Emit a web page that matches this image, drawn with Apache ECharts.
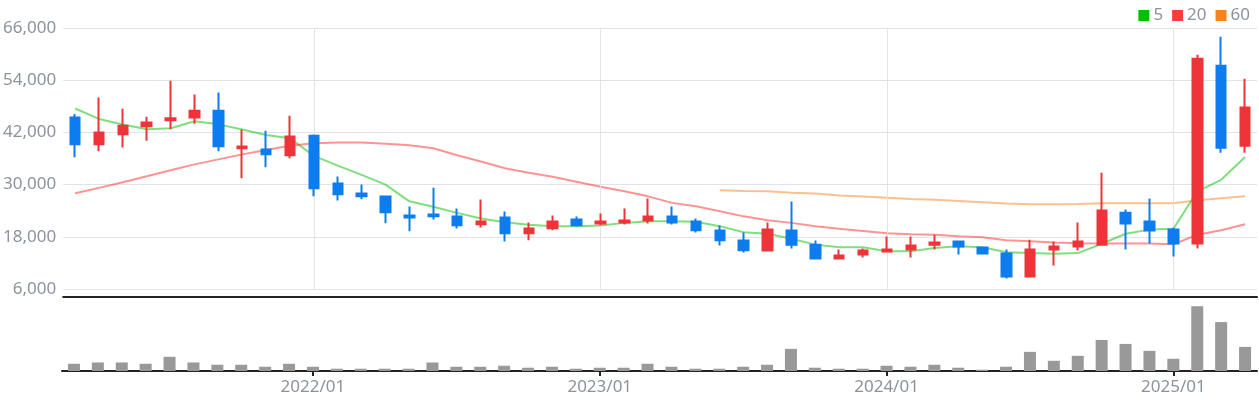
<!DOCTYPE html>
<html>
<head>
<meta charset="utf-8">
<script src="https://cdn.jsdelivr.net/npm/echarts@6/dist/echarts.min.js"></script>
<style>html,body{margin:0;padding:0;background:#fff}#c{width:1259px;height:400px}</style>
</head>
<body>
<div id="c"></div>
<script>
const categories = [
 '2021/03','2021/04','2021/05','2021/06','2021/07','2021/08','2021/09','2021/10','2021/11','2021/12',
 '2022/01','2022/02','2022/03','2022/04','2022/05','2022/06','2022/07','2022/08','2022/09','2022/10','2022/11','2022/12',
 '2023/01','2023/02','2023/03','2023/04','2023/05','2023/06','2023/07','2023/08','2023/09','2023/10','2023/11','2023/12',
 '2024/01','2024/02','2024/03','2024/04','2024/05','2024/06','2024/07','2024/08','2024/09','2024/10','2024/11','2024/12',
 '2025/01','2025/02','2025/03','2025/04'
];
const opens  = [45400,39250,41550,43400,44800,45450,47000,38350,38050,36750,41250,30250,27950,27250,22900,23100,22650,20900,22450,18800,19950,21950,21050,21300,21750,22650,21500,19450,17150,14850,19450,16200,13000,13950,14600,15100,16200,16900,15550,14150,8850,15100,15750,16200,23550,21500,19650,16450,57350,38950];
const closes = [39250,41950,43550,44250,45250,47000,38800,38750,36950,41050,29150,27800,27300,23650,22450,22700,20650,21500,18800,19900,21500,20650,21500,21750,22650,21300,19500,17200,14900,19650,16200,13000,13700,14850,15100,16000,16700,15750,14150,8850,15100,15750,16900,24050,21050,19450,16450,58950,38500,47700];
const lows   = [36300,37650,38550,40100,42700,44000,37650,31450,34000,36050,27300,26350,26650,21100,19300,21950,19900,20150,16900,17200,19500,20350,20600,20800,21050,20800,19000,16000,14400,14600,15300,13000,13000,13250,14400,13250,15100,13950,13950,8400,8850,11400,14850,16200,15100,16450,13450,15300,37350,37350];
const highs  = [46250,50000,47450,45600,53900,50700,51150,42650,42400,45850,41500,31850,30000,27500,24950,29300,24500,26550,23800,21300,22900,22650,23350,24500,26800,24950,22200,20600,19000,21300,26100,17150,15100,15300,18050,18050,18500,16950,15750,15100,17350,16900,21300,32750,24250,26800,20150,59850,64000,54350];
const ma5  = [47500,45100,43800,42700,42950,44550,43850,42650,41400,40650,36600,34350,32250,30000,26150,24900,23500,22200,21350,20750,20450,20450,20600,21200,21600,21600,21450,20450,19050,18700,17550,16200,15600,15600,14700,14700,15450,15850,15600,14450,14300,14100,14250,16400,18700,19650,19850,28450,31100,36350];
const ma20 = [28000,29250,30550,31900,33300,34650,35800,36950,37950,38950,39500,39650,39650,39400,39050,38350,36750,35300,33750,32700,31800,30650,29500,28450,27300,25800,25000,23850,22700,21800,21200,20450,19850,19350,18800,18600,18450,18150,17900,17200,17000,16700,16500,16450,16450,16450,16300,18450,19500,20900];
const ma60 = [null,null,null,null,null,null,null,null,null,null,null,null,null,null,null,null,null,null,null,null,null,null,null,null,null,null,null,
 28700,28550,28450,28150,27950,27500,27250,26950,26700,26500,26250,25950,25650,25500,25500,25550,25700,25700,25700,25700,26400,26850,27300];
// volume in thousands of shares (estimated)
const volumes = [730,860,860,730,1430,860,630,630,430,730,430,230,230,230,230,860,430,430,530,330,430,230,330,330,730,430,230,230,430,630,2230,330,230,230,530,430,630,330,130,430,1930,1030,1530,3130,2730,2030,1230,6530,4930,2430];
const yTicks = [6000,18000,30000,42000,54000,66000];
const legendNames = ['5','20','60'];

const candleData = categories.map((c,i)=>[opens[i],closes[i],lows[i],highs[i]]);
const janCats = categories.filter(c=>c.endsWith('/01'));
const isJan = (idx, val) => String(val).endsWith('/01');
const gray = '#8c939d';
const font = 'Noto Sans';

const chart = echarts.init(document.getElementById('c'), null, {renderer:'canvas'});
chart.setOption({
  animation:false,
  textStyle:{fontFamily:font},
  legend:{
    right:4, top:2, itemWidth:11, itemHeight:11, itemGap:9, icon:'rect',
    textStyle:{color:gray, fontSize:17, fontFamily:font, padding:[0,0,0,-1]},
    data:[
      {name:legendNames[0], itemStyle:{color:'#00c000'}},
      {name:legendNames[1], itemStyle:{color:'#ff3b3b'}},
      {name:legendNames[2], itemStyle:{color:'#f5841e'}}
    ]
  },
  grid:[
    {left:62, right:2, top:28, height:261},
    {left:62, right:2, top:297, height:74}
  ],
  xAxis:[
    {type:'category', gridIndex:0, data:categories, offset:8,
     axisLine:{show:true, lineStyle:{color:'#222', width:2}},
     axisTick:{show:false}, axisLabel:{show:false}, splitLine:{show:false}},
    {type:'category', gridIndex:1, data:categories,
     axisLine:{show:true, lineStyle:{color:'#222', width:2}},
     axisTick:{show:true, alignWithLabel:true, interval:isJan, length:5, lineStyle:{color:'#222', width:2}},
     axisLabel:{interval:isJan, color:gray, fontSize:17, margin:8, fontFamily:font},
     splitLine:{show:false}}
  ],
  yAxis:[
    {type:'value', gridIndex:0, min:yTicks[0], max:yTicks[yTicks.length-1], interval:yTicks[1]-yTicks[0],
     axisLine:{show:false}, axisTick:{show:false},
     axisLabel:{color:gray, fontSize:17, margin:7, fontFamily:font, formatter:v=>v.toLocaleString('en-US')},
     splitLine:{show:true, lineStyle:{color:'#e0e3e8', width:1}}},
    {type:'value', gridIndex:1, min:0, max:7460, show:false, splitLine:{show:false}}
  ],
  series:[
    {name:'vgrid', type:'line', xAxisIndex:0, yAxisIndex:0, data:[], z:1, silent:true,
     markLine:{silent:true, symbol:['none','none'], label:{show:false}, animation:false,
       lineStyle:{color:'#e0e3e8', width:1, type:'solid'},
       emphasis:{disabled:true},
       data: janCats.map(c=>({xAxis:c}))}},
    {name:legendNames[0], type:'line', data:ma5, xAxisIndex:0, yAxisIndex:0, showSymbol:false, z:2,
     itemStyle:{color:'#00c000'}, lineStyle:{color:'rgba(0,192,0,0.5)', width:2}},
    {name:legendNames[1], type:'line', data:ma20, xAxisIndex:0, yAxisIndex:0, showSymbol:false, z:2,
     itemStyle:{color:'#ff3b3b'}, lineStyle:{color:'rgba(255,59,59,0.55)', width:2}},
    {name:legendNames[2], type:'line', data:ma60, xAxisIndex:0, yAxisIndex:0, showSymbol:false, z:2,
     itemStyle:{color:'#f5841e'}, lineStyle:{color:'rgba(245,132,30,0.5)', width:2}},
    {name:'price', type:'candlestick', data:candleData, xAxisIndex:0, yAxisIndex:0, barWidth:10, z:5,
     itemStyle:{color:'#ee3438', color0:'#0c7cee', borderColor:'#ee3438', borderColor0:'#0c7cee', borderWidth:2}},
    {name:'volume', type:'bar', data:volumes, xAxisIndex:1, yAxisIndex:1, barWidth:12,
     itemStyle:{color:'#999999'}}
  ]
});
</script>
</body>
</html>
